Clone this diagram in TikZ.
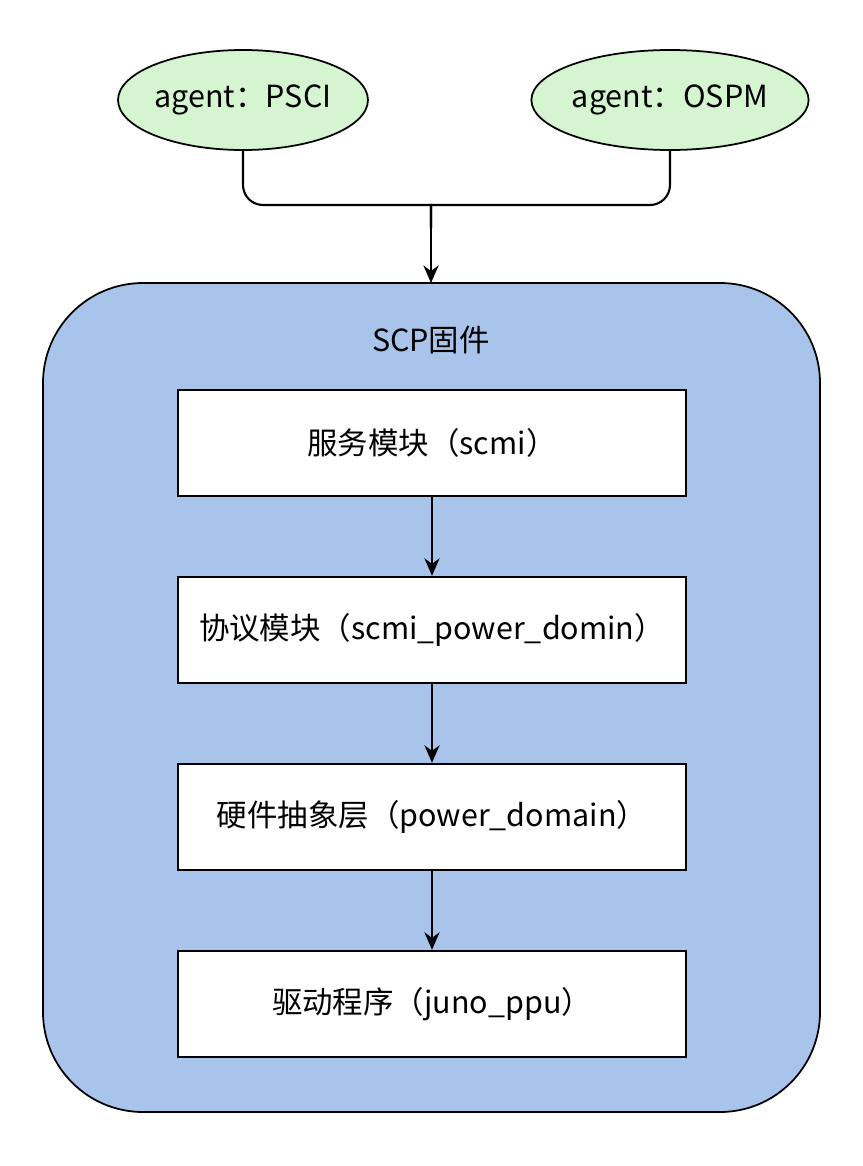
\documentclass[tikz,border=0pt]{standalone}
\usepackage{fontspec}
\setmainfont{Noto Sans CJK SC}
\usetikzlibrary{positioning,shapes.geometric,arrows.meta}
\definecolor{agentgreen}{HTML}{D5F5D0}
\definecolor{scpblue}{HTML}{A9C4EB}
\begin{document}
\begin{tikzpicture}[x=0.03cm,y=-0.03cm,
	agent/.style={ellipse,draw,line width=1.5pt,fill=agentgreen,minimum width=7.1cm,minimum height=3cm,inner sep=0pt,font=\fontsize{26}{30}\selectfont},
	layer/.style={rectangle,draw,line width=1.5pt,fill=white,minimum width=15.24cm,minimum height=3.2cm,inner sep=0pt,font=\fontsize{26}{30}\selectfont},
	flow/.style={-{Stealth[length=15pt,width=13pt]},line width=1.8pt}]
	% Bounds %
	\useasboundingbox (0,0) rectangle (863,1166);
	% Agents %
	\node [agent] (psci) at (243,100) {agent：PSCI};
	\node [agent] (ospm) at (670,100) {agent：OSPM};
	% Firmware container %
	\draw [line width=1.5pt,fill=scpblue,rounded corners=3cm] (43,283) rectangle (820,1112);
	\coordinate (scptop) at (431,283);
	\node [font=\fontsize{26}{30}\selectfont] (scp) at (431,340) {SCP固件};
	% Layers %
	\node [layer] (svc) at (432,443) {服务模块（scmi）};
	\node [layer] (proto) at (432,630) {协议模块（scmi\_power\_domin）};
	\node [layer] (hal) at (432,817) {硬件抽象层（power\_domain）};
	\node [layer] (drv) at (432,1004) {驱动程序（juno\_ppu）};
	% Connectors %
	\coordinate (merge) at (431,228);
	\draw [line width=1.8pt] (psci.south) [rounded corners=0.6cm] |- (411,205) [sharp corners] .. controls (431,205) .. (merge);
	\draw [line width=1.8pt] (ospm.south) [rounded corners=0.6cm] |- (451,205) [sharp corners] .. controls (431,205) .. (merge);
	\draw [flow] (merge) -- (scptop);
	\draw [flow] (svc) -- (proto);
	\draw [flow] (proto) -- (hal);
	\draw [flow] (hal) -- (drv);
\end{tikzpicture}
\end{document}
